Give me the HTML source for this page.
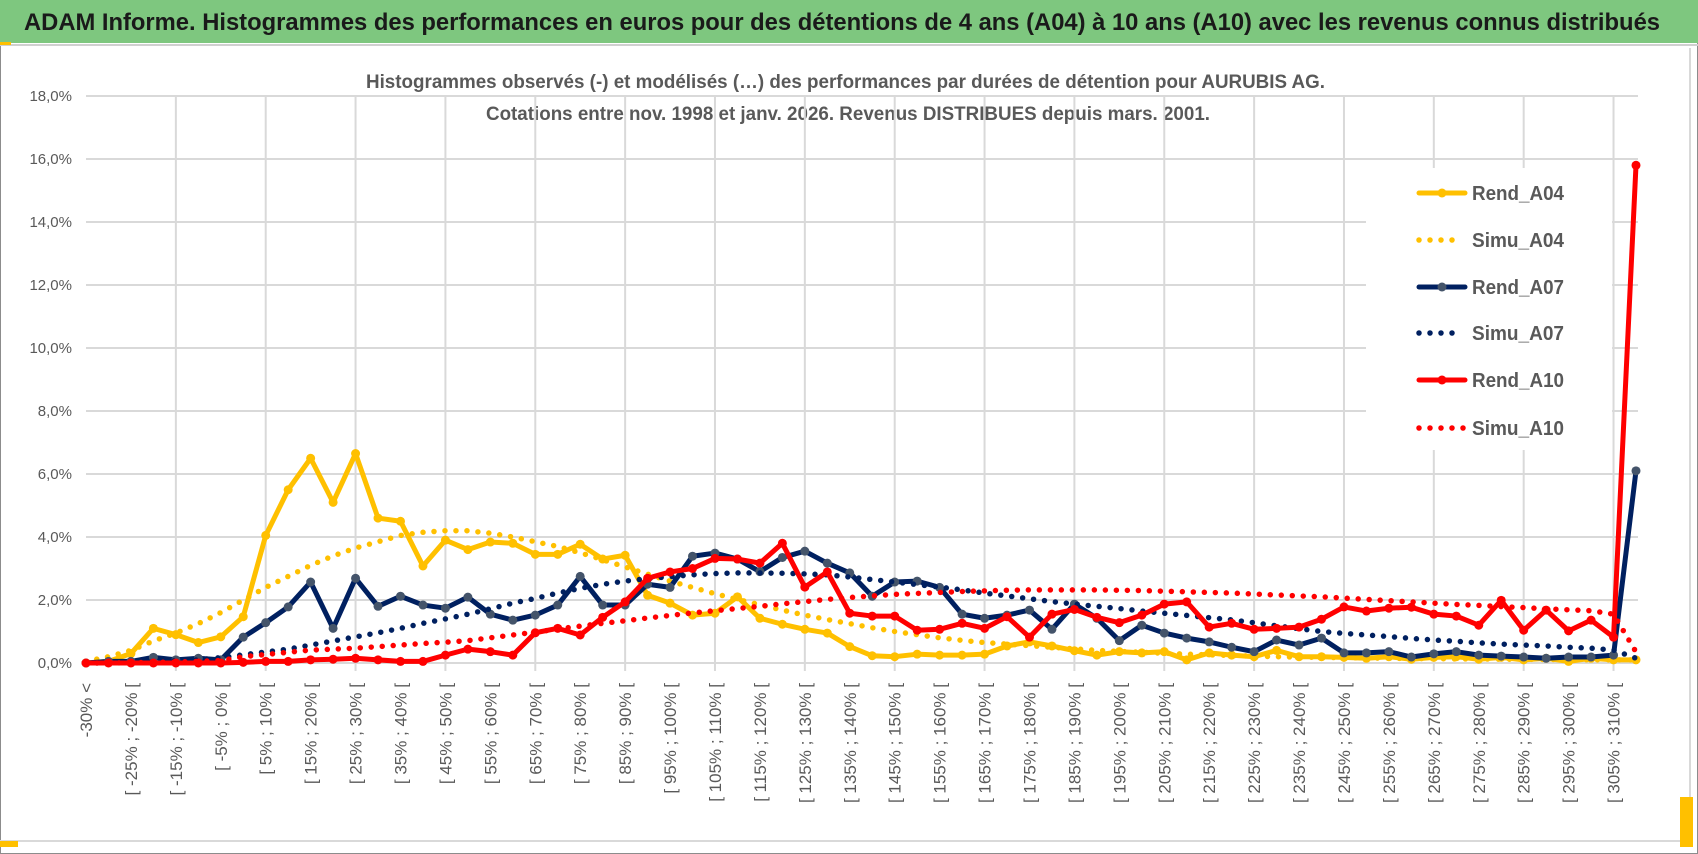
<!DOCTYPE html>
<html><head><meta charset="utf-8">
<style>
html,body{margin:0;padding:0;background:#fff;}
body{width:1698px;height:854px;overflow:hidden;position:relative;font-family:"Liberation Sans",sans-serif;}
svg{position:absolute;left:0;top:0;}
</style></head>
<body>
<svg id="chart" width="1698" height="854" viewBox="0 0 1698 854" xmlns="http://www.w3.org/2000/svg">
  <rect x="0.5" y="0.5" width="1697" height="853" fill="#fff" stroke="#8c8c8c" stroke-width="1"/>
  <rect x="0" y="0" width="1698" height="43" fill="#7ec77f"/>
  <line x1="0" y1="45" x2="1698" y2="45" stroke="#d0d0d0" stroke-width="2"/>
  <rect x="0" y="42" width="11" height="3" fill="#ffc000"/>
  <text x="24" y="30" font-size="24" font-weight="bold" fill="#1a1a1a" textLength="1636" lengthAdjust="spacingAndGlyphs">ADAM Informe. Histogrammes des performances en euros pour des détentions de 4 ans (A04) à 10 ans (A10) avec les revenus connus distribués</text>
  <line x1="0" y1="841" x2="1690" y2="841" stroke="#d9d9d9" stroke-width="2"/>
  <line x1="1690" y1="48" x2="1690" y2="841" stroke="#d9d9d9" stroke-width="2"/>
  <rect x="0" y="841" width="18" height="6" fill="#ffc000"/>
  <rect x="1680" y="797" width="13" height="50" fill="#ffc000"/>
  <text x="366" y="88" font-size="19" font-weight="bold" fill="#595959" textLength="959" lengthAdjust="spacingAndGlyphs">Histogrammes observés (-) et modélisés (…) des performances par durées de détention pour AURUBIS AG.</text>
  <text x="486" y="120" font-size="19" font-weight="bold" fill="#595959" textLength="724" lengthAdjust="spacingAndGlyphs">Cotations entre nov. 1998 et janv. 2026. Revenus DISTRIBUES depuis mars. 2001.</text>
  <g id="grid"></g>
  <g id="yticks"></g>
  <g id="xticks"></g>
  <g id="series"></g>
  <g id="legend"></g>
</svg>
<script>
const categories = (function(){ const c=["-30% <"]; for(let k=-30;k<=305;k+=5){c.push("[ "+k+"% ; "+(k+5)+"% [");} c.push("> 310%"); return c; })();
const yTicks = [0,2,4,6,8,10,12,14,16,18];
const yTickLabels = ["0,0%","2,0%","4,0%","6,0%","8,0%","10,0%","12,0%","14,0%","16,0%","18,0%"];
const rendA04 = [0,0.05,0.3,1.1,0.9,0.65,0.83,1.47,4.05,5.5,6.5,5.1,6.65,4.6,4.5,3.08,3.9,3.6,3.84,3.8,3.45,3.45,3.77,3.3,3.42,2.15,1.9,1.52,1.58,2.1,1.42,1.23,1.07,0.95,0.52,0.23,0.2,0.28,0.25,0.25,0.28,0.54,0.67,0.54,0.39,0.25,0.36,0.32,0.36,0.1,0.32,0.25,0.2,0.4,0.2,0.2,0.18,0.15,0.2,0.12,0.18,0.2,0.12,0.18,0.1,0.15,0.05,0.15,0.1,0.1];
const simuA04 = [0.05,0.2,0.4,0.7,0.95,1.25,1.6,2.0,2.4,2.75,3.1,3.4,3.65,3.85,4.05,4.15,4.2,4.2,4.12,4.0,3.85,3.7,3.5,3.28,3.05,2.82,2.6,2.4,2.2,2.02,1.85,1.68,1.52,1.38,1.25,1.12,1.0,0.9,0.8,0.72,0.65,0.6,0.55,0.5,0.45,0.4,0.37,0.34,0.31,0.28,0.26,0.24,0.22,0.2,0.19,0.18,0.17,0.16,0.15,0.14,0.14,0.13,0.13,0.12,0.12,0.11,0.11,0.1,0.1,0.1];
const rendA07 = [0,0.05,0.05,0.18,0.1,0.15,0.1,0.82,1.28,1.78,2.57,1.1,2.69,1.8,2.12,1.84,1.74,2.09,1.55,1.36,1.52,1.84,2.75,1.84,1.84,2.5,2.4,3.39,3.49,3.3,2.9,3.35,3.55,3.17,2.86,2.12,2.57,2.6,2.4,1.55,1.42,1.52,1.68,1.07,1.87,1.42,0.71,1.2,0.95,0.79,0.67,0.5,0.36,0.73,0.57,0.79,0.32,0.32,0.36,0.19,0.29,0.36,0.25,0.22,0.19,0.15,0.19,0.19,0.25,6.1];
const simuA07 = [0,0.01,0.02,0.04,0.07,0.1,0.17,0.26,0.35,0.44,0.57,0.7,0.83,0.96,1.1,1.26,1.4,1.55,1.72,1.9,2.05,2.22,2.37,2.5,2.6,2.68,2.74,2.8,2.84,2.86,2.86,2.85,2.83,2.8,2.73,2.65,2.57,2.49,2.41,2.32,2.22,2.13,2.04,1.95,1.87,1.8,1.73,1.65,1.58,1.51,1.44,1.37,1.28,1.18,1.09,1.0,0.94,0.89,0.84,0.78,0.73,0.69,0.64,0.6,0.57,0.54,0.5,0.47,0.41,0.15];
const rendA10 = [0,0,0,0,0,0,0,0.02,0.05,0.05,0.1,0.12,0.15,0.1,0.05,0.05,0.25,0.44,0.36,0.25,0.96,1.1,0.89,1.45,1.94,2.69,2.89,3.0,3.32,3.3,3.17,3.8,2.41,2.89,1.58,1.49,1.49,1.04,1.07,1.26,1.1,1.47,0.82,1.55,1.7,1.45,1.28,1.52,1.87,1.94,1.14,1.26,1.07,1.1,1.14,1.39,1.78,1.65,1.74,1.77,1.55,1.49,1.2,1.99,1.04,1.68,1.02,1.36,0.82,15.8];
const simuA10 = [0,0,0.01,0.02,0.03,0.05,0.08,0.2,0.27,0.34,0.41,0.44,0.47,0.52,0.57,0.62,0.66,0.71,0.8,0.89,0.98,1.08,1.17,1.26,1.34,1.43,1.51,1.59,1.66,1.73,1.8,1.88,1.95,2.02,2.08,2.13,2.18,2.21,2.24,2.27,2.29,2.31,2.32,2.32,2.32,2.32,2.31,2.3,2.28,2.26,2.24,2.22,2.19,2.16,2.13,2.1,2.06,2.02,1.98,1.94,1.9,1.86,1.83,1.79,1.76,1.72,1.69,1.66,1.55,0.35];

const NS="http://www.w3.org/2000/svg";
const X0=86, X1=1636, Y0=663, Y18=96;
function xPos(i){ return X0 + (X1-X0)*i/(categories.length-1); }
function yPos(v){ return Y0 - (Y0-Y18)*v/18; }
function mk(tag, parent){ const e=document.createElementNS(NS,tag); parent.appendChild(e); return e; }

const grid=document.getElementById('grid');
yTicks.forEach((t)=>{
  const l=mk('line',grid);
  l.setAttribute('x1',X0); l.setAttribute('x2',X1+2); l.setAttribute('y1',yPos(t)); l.setAttribute('y2',yPos(t));
  l.setAttribute('stroke','#d9d9d9'); l.setAttribute('stroke-width','2');
  
  
});
for(let i=4;i<categories.length;i+=4){
  const l=mk('line',grid);
  l.setAttribute('x1',xPos(i)); l.setAttribute('x2',xPos(i)); l.setAttribute('y1',Y18); l.setAttribute('y2',Y0+8);
  l.setAttribute('stroke','#d9d9d9'); l.setAttribute('stroke-width','2');
  
  
}
const yt=document.getElementById('yticks');
yTicks.forEach((t,k)=>{
  const tx=mk('text',yt);
  tx.setAttribute('x',72); tx.setAttribute('y',yPos(t)+5); tx.setAttribute('text-anchor','end');
  tx.setAttribute('font-size','15'); tx.setAttribute('fill','#595959');
  tx.textContent=yTickLabels[k];
  
  
});
const xt=document.getElementById('xticks');
categories.forEach((c,i)=>{
  if(i%2!==0) return;
  const x=xPos(i)+6, y=683;
  const tx=mk('text',xt);
  tx.setAttribute('x',x); tx.setAttribute('y',y); tx.setAttribute('text-anchor','end');
  tx.setAttribute('transform','rotate(-90 '+x+' '+y+')');
  tx.setAttribute('font-size','17'); tx.setAttribute('fill','#595959');
  tx.textContent=c;
  
  
});

const seriesG=document.getElementById('series');
function drawSolid(vals, color, mcolor, name){
  const g=mk('g',seriesG);
  
  
  const p=mk('polyline',g);
  p.setAttribute('points', vals.map((v,i)=>xPos(i)+','+yPos(v)).join(' '));
  p.setAttribute('fill','none'); p.setAttribute('stroke',color); p.setAttribute('stroke-width','5'); p.setAttribute('stroke-linejoin','round');
  
  
  vals.forEach((v,i)=>{
    const c=mk('circle',g);
    c.setAttribute('cx',xPos(i)); c.setAttribute('cy',yPos(v)); c.setAttribute('r','4.5'); c.setAttribute('fill',mcolor);
    
    
  });
}
function drawDotted(vals, color, name){
  const p=mk('polyline',seriesG);
  p.setAttribute('points', vals.map((v,i)=>xPos(i)+','+yPos(v)).join(' '));
  p.setAttribute('fill','none'); p.setAttribute('stroke',color); p.setAttribute('stroke-width','5.5');
  p.setAttribute('stroke-linecap','round'); p.setAttribute('stroke-dasharray','0 11');
  
  
}
drawSolid(rendA04,'#ffc000','#ffc000','series-rend-a04');
drawDotted(simuA04,'#ffc000','series-simu-a04');
drawSolid(rendA07,'#002060','#44546a','series-rend-a07');
drawDotted(simuA07,'#002060','series-simu-a07');
drawSolid(rendA10,'#ff0000','#ff0000','series-rend-a10');
drawDotted(simuA10,'#ff0000','series-simu-a10');

const lg=document.getElementById('legend');
const bg=mk('rect',lg);
bg.setAttribute('x',1366); bg.setAttribute('y',168); bg.setAttribute('width',246); bg.setAttribute('height',282); bg.setAttribute('fill','#fff');


const legNames=["Rend_A04","Simu_A04","Rend_A07","Simu_A07","Rend_A10","Simu_A10"];
const legColors=["#ffc000","#ffc000","#002060","#002060","#ff0000","#ff0000"];
const legMarker=["#ffc000","","#44546a","","#ff0000",""];
const legY=[193,240,287,333,380,428];
legNames.forEach((n,k)=>{
  const g=mk('g',lg);
  
  
  const y=legY[k];
  const l=mk('line',g);
  l.setAttribute('x1',1419); l.setAttribute('x2',1465); l.setAttribute('y1',y); l.setAttribute('y2',y);
  l.setAttribute('stroke',legColors[k]);
  if(legMarker[k]){
    l.setAttribute('stroke-width','5'); l.setAttribute('stroke-linecap','round');
    const c=mk('circle',g); c.setAttribute('cx',1442); c.setAttribute('cy',y); c.setAttribute('r','4.5'); c.setAttribute('fill',legMarker[k]);
  } else {
    l.setAttribute('stroke-width','5.5'); l.setAttribute('stroke-linecap','round'); l.setAttribute('stroke-dasharray','0 11');
    if(k===5){ l.setAttribute('x2',1466); }
    else { l.setAttribute('x2',1456); }
  }
  const t=mk('text',g);
  t.setAttribute('x',1472); t.setAttribute('y',y+7); t.setAttribute('font-size','20'); t.setAttribute('font-weight','bold'); t.setAttribute('fill','#595959');
  t.setAttribute('textLength','92'); t.setAttribute('lengthAdjust','spacingAndGlyphs');
  t.textContent=n;
});
</script>
</body></html>
